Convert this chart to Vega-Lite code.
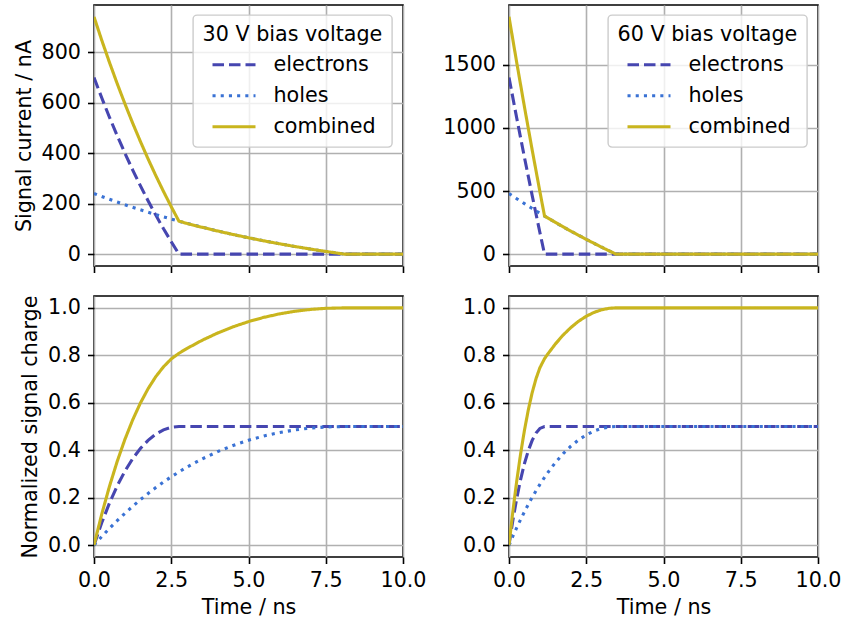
{
  "$schema": "https://vega.github.io/schema/vega-lite/v6.json",
  "padding": {"left": 12, "top": 4, "right": 5, "bottom": 5},
  "background": "white",
  "data": {"values": [
    {"b":"30","q":"I","c":"electrons","t":0,"v":700},
    {"b":"30","q":"I","c":"electrons","t":0.25,"v":619.3},
    {"b":"30","q":"I","c":"electrons","t":0.5,"v":542.5},
    {"b":"30","q":"I","c":"electrons","t":0.75,"v":469.5},
    {"b":"30","q":"I","c":"electrons","t":1,"v":400.1},
    {"b":"30","q":"I","c":"electrons","t":1.25,"v":334.0},
    {"b":"30","q":"I","c":"electrons","t":1.5,"v":271.2},
    {"b":"30","q":"I","c":"electrons","t":1.75,"v":211.4},
    {"b":"30","q":"I","c":"electrons","t":2,"v":154.5},
    {"b":"30","q":"I","c":"electrons","t":2.25,"v":100.4},
    {"b":"30","q":"I","c":"electrons","t":2.5,"v":49.0},
    {"b":"30","q":"I","c":"electrons","t":2.75,"v":0},
    {"b":"30","q":"I","c":"electrons","t":10,"v":0},
    {"b":"30","q":"I","c":"holes","t":0,"v":240},
    {"b":"30","q":"I","c":"holes","t":0.25,"v":228.4},
    {"b":"30","q":"I","c":"holes","t":0.5,"v":217.2},
    {"b":"30","q":"I","c":"holes","t":0.75,"v":206.3},
    {"b":"30","q":"I","c":"holes","t":1,"v":195.7},
    {"b":"30","q":"I","c":"holes","t":1.25,"v":185.5},
    {"b":"30","q":"I","c":"holes","t":1.5,"v":175.6},
    {"b":"30","q":"I","c":"holes","t":1.75,"v":165.9},
    {"b":"30","q":"I","c":"holes","t":2,"v":156.6},
    {"b":"30","q":"I","c":"holes","t":2.25,"v":147.6},
    {"b":"30","q":"I","c":"holes","t":2.5,"v":138.8},
    {"b":"30","q":"I","c":"holes","t":2.75,"v":130.3},
    {"b":"30","q":"I","c":"holes","t":3,"v":122.1},
    {"b":"30","q":"I","c":"holes","t":3.5,"v":106.4},
    {"b":"30","q":"I","c":"holes","t":4,"v":91.7},
    {"b":"30","q":"I","c":"holes","t":4.5,"v":77.8},
    {"b":"30","q":"I","c":"holes","t":5,"v":64.8},
    {"b":"30","q":"I","c":"holes","t":5.5,"v":52.6},
    {"b":"30","q":"I","c":"holes","t":6,"v":41.1},
    {"b":"30","q":"I","c":"holes","t":6.5,"v":30.3},
    {"b":"30","q":"I","c":"holes","t":7,"v":20.2},
    {"b":"30","q":"I","c":"holes","t":7.5,"v":10.7},
    {"b":"30","q":"I","c":"holes","t":8.1,"v":0},
    {"b":"30","q":"I","c":"holes","t":10,"v":0},
    {"b":"30","q":"I","c":"combined","t":0,"v":940},
    {"b":"30","q":"I","c":"combined","t":0.25,"v":847.7},
    {"b":"30","q":"I","c":"combined","t":0.5,"v":759.7},
    {"b":"30","q":"I","c":"combined","t":0.75,"v":675.8},
    {"b":"30","q":"I","c":"combined","t":1,"v":595.8},
    {"b":"30","q":"I","c":"combined","t":1.25,"v":519.5},
    {"b":"30","q":"I","c":"combined","t":1.5,"v":446.8},
    {"b":"30","q":"I","c":"combined","t":1.75,"v":377.3},
    {"b":"30","q":"I","c":"combined","t":2,"v":311.1},
    {"b":"30","q":"I","c":"combined","t":2.25,"v":248.0},
    {"b":"30","q":"I","c":"combined","t":2.5,"v":187.8},
    {"b":"30","q":"I","c":"combined","t":2.75,"v":130.3},
    {"b":"30","q":"I","c":"combined","t":3,"v":122.1},
    {"b":"30","q":"I","c":"combined","t":3.5,"v":106.4},
    {"b":"30","q":"I","c":"combined","t":4,"v":91.7},
    {"b":"30","q":"I","c":"combined","t":4.5,"v":77.8},
    {"b":"30","q":"I","c":"combined","t":5,"v":64.8},
    {"b":"30","q":"I","c":"combined","t":5.5,"v":52.6},
    {"b":"30","q":"I","c":"combined","t":6,"v":41.1},
    {"b":"30","q":"I","c":"combined","t":6.5,"v":30.3},
    {"b":"30","q":"I","c":"combined","t":7,"v":20.2},
    {"b":"30","q":"I","c":"combined","t":7.5,"v":10.7},
    {"b":"30","q":"I","c":"combined","t":8.1,"v":0},
    {"b":"30","q":"I","c":"combined","t":10,"v":0},

    {"b":"30","q":"Q","c":"electrons","t":0,"v":0},
    {"b":"30","q":"Q","c":"electrons","t":0.25,"v":0.0942},
    {"b":"30","q":"Q","c":"electrons","t":0.5,"v":0.1772},
    {"b":"30","q":"Q","c":"electrons","t":0.75,"v":0.2495},
    {"b":"30","q":"Q","c":"electrons","t":1,"v":0.3115},
    {"b":"30","q":"Q","c":"electrons","t":1.25,"v":0.3640},
    {"b":"30","q":"Q","c":"electrons","t":1.5,"v":0.4072},
    {"b":"30","q":"Q","c":"electrons","t":1.75,"v":0.4416},
    {"b":"30","q":"Q","c":"electrons","t":2,"v":0.4677},
    {"b":"30","q":"Q","c":"electrons","t":2.25,"v":0.4859},
    {"b":"30","q":"Q","c":"electrons","t":2.5,"v":0.4967},
    {"b":"30","q":"Q","c":"electrons","t":2.75,"v":0.5},
    {"b":"30","q":"Q","c":"electrons","t":10,"v":0.5},
    {"b":"30","q":"Q","c":"holes","t":0,"v":0},
    {"b":"30","q":"Q","c":"holes","t":0.25,"v":0.0361},
    {"b":"30","q":"Q","c":"holes","t":0.5,"v":0.0704},
    {"b":"30","q":"Q","c":"holes","t":0.75,"v":0.1031},
    {"b":"30","q":"Q","c":"holes","t":1,"v":0.1341},
    {"b":"30","q":"Q","c":"holes","t":1.25,"v":0.1634},
    {"b":"30","q":"Q","c":"holes","t":1.5,"v":0.1913},
    {"b":"30","q":"Q","c":"holes","t":1.75,"v":0.2176},
    {"b":"30","q":"Q","c":"holes","t":2,"v":0.2425},
    {"b":"30","q":"Q","c":"holes","t":2.25,"v":0.2659},
    {"b":"30","q":"Q","c":"holes","t":2.5,"v":0.2880},
    {"b":"30","q":"Q","c":"holes","t":2.75,"v":0.3087},
    {"b":"30","q":"Q","c":"holes","t":3,"v":0.3282},
    {"b":"30","q":"Q","c":"holes","t":3.5,"v":0.3634},
    {"b":"30","q":"Q","c":"holes","t":4,"v":0.3939},
    {"b":"30","q":"Q","c":"holes","t":4.5,"v":0.4201},
    {"b":"30","q":"Q","c":"holes","t":5,"v":0.4420},
    {"b":"30","q":"Q","c":"holes","t":5.5,"v":0.4602},
    {"b":"30","q":"Q","c":"holes","t":6,"v":0.4745},
    {"b":"30","q":"Q","c":"holes","t":6.5,"v":0.4855},
    {"b":"30","q":"Q","c":"holes","t":7,"v":0.4933},
    {"b":"30","q":"Q","c":"holes","t":7.5,"v":0.4981},
    {"b":"30","q":"Q","c":"holes","t":8.1,"v":0.5},
    {"b":"30","q":"Q","c":"holes","t":10,"v":0.5},
    {"b":"30","q":"Q","c":"combined","t":0,"v":0},
    {"b":"30","q":"Q","c":"combined","t":0.25,"v":0.1303},
    {"b":"30","q":"Q","c":"combined","t":0.5,"v":0.2476},
    {"b":"30","q":"Q","c":"combined","t":0.75,"v":0.3526},
    {"b":"30","q":"Q","c":"combined","t":1,"v":0.4456},
    {"b":"30","q":"Q","c":"combined","t":1.25,"v":0.5274},
    {"b":"30","q":"Q","c":"combined","t":1.5,"v":0.5985},
    {"b":"30","q":"Q","c":"combined","t":1.75,"v":0.6592},
    {"b":"30","q":"Q","c":"combined","t":2,"v":0.7102},
    {"b":"30","q":"Q","c":"combined","t":2.25,"v":0.7518},
    {"b":"30","q":"Q","c":"combined","t":2.5,"v":0.7847},
    {"b":"30","q":"Q","c":"combined","t":2.75,"v":0.8087},
    {"b":"30","q":"Q","c":"combined","t":3,"v":0.8282},
    {"b":"30","q":"Q","c":"combined","t":3.5,"v":0.8634},
    {"b":"30","q":"Q","c":"combined","t":4,"v":0.8939},
    {"b":"30","q":"Q","c":"combined","t":4.5,"v":0.9201},
    {"b":"30","q":"Q","c":"combined","t":5,"v":0.9420},
    {"b":"30","q":"Q","c":"combined","t":5.5,"v":0.9602},
    {"b":"30","q":"Q","c":"combined","t":6,"v":0.9745},
    {"b":"30","q":"Q","c":"combined","t":6.5,"v":0.9855},
    {"b":"30","q":"Q","c":"combined","t":7,"v":0.9933},
    {"b":"30","q":"Q","c":"combined","t":7.5,"v":0.9981},
    {"b":"30","q":"Q","c":"combined","t":8.1,"v":1},
    {"b":"30","q":"Q","c":"combined","t":10,"v":1},

    {"b":"60","q":"I","c":"electrons","t":0,"v":1400},
    {"b":"60","q":"I","c":"electrons","t":0.25,"v":1078.3},
    {"b":"60","q":"I","c":"electrons","t":0.5,"v":766.5},
    {"b":"60","q":"I","c":"electrons","t":0.75,"v":464.3},
    {"b":"60","q":"I","c":"electrons","t":1,"v":171.4},
    {"b":"60","q":"I","c":"electrons","t":1.15,"v":0},
    {"b":"60","q":"I","c":"electrons","t":10,"v":0},
    {"b":"60","q":"I","c":"holes","t":0,"v":480},
    {"b":"60","q":"I","c":"holes","t":0.25,"v":439.5},
    {"b":"60","q":"I","c":"holes","t":0.5,"v":400.0},
    {"b":"60","q":"I","c":"holes","t":0.75,"v":361.4},
    {"b":"60","q":"I","c":"holes","t":1,"v":323.8},
    {"b":"60","q":"I","c":"holes","t":1.15,"v":301.7},
    {"b":"60","q":"I","c":"holes","t":1.5,"v":251.4},
    {"b":"60","q":"I","c":"holes","t":2,"v":182.5},
    {"b":"60","q":"I","c":"holes","t":2.5,"v":117.0},
    {"b":"60","q":"I","c":"holes","t":3,"v":54.7},
    {"b":"60","q":"I","c":"holes","t":3.46,"v":0},
    {"b":"60","q":"I","c":"holes","t":10,"v":0},
    {"b":"60","q":"I","c":"combined","t":0,"v":1880},
    {"b":"60","q":"I","c":"combined","t":0.25,"v":1517.8},
    {"b":"60","q":"I","c":"combined","t":0.5,"v":1166.5},
    {"b":"60","q":"I","c":"combined","t":0.75,"v":825.7},
    {"b":"60","q":"I","c":"combined","t":1,"v":495.2},
    {"b":"60","q":"I","c":"combined","t":1.15,"v":301.7},
    {"b":"60","q":"I","c":"combined","t":1.5,"v":251.4},
    {"b":"60","q":"I","c":"combined","t":2,"v":182.5},
    {"b":"60","q":"I","c":"combined","t":2.5,"v":117.0},
    {"b":"60","q":"I","c":"combined","t":3,"v":54.7},
    {"b":"60","q":"I","c":"combined","t":3.46,"v":0},
    {"b":"60","q":"I","c":"combined","t":10,"v":0},

    {"b":"60","q":"Q","c":"electrons","t":0,"v":0},
    {"b":"60","q":"Q","c":"electrons","t":0.125,"v":0.1049},
    {"b":"60","q":"Q","c":"electrons","t":0.25,"v":0.1970},
    {"b":"60","q":"Q","c":"electrons","t":0.375,"v":0.2765},
    {"b":"60","q":"Q","c":"electrons","t":0.5,"v":0.3437},
    {"b":"60","q":"Q","c":"electrons","t":0.625,"v":0.3986},
    {"b":"60","q":"Q","c":"electrons","t":0.75,"v":0.4415},
    {"b":"60","q":"Q","c":"electrons","t":0.875,"v":0.4725},
    {"b":"60","q":"Q","c":"electrons","t":1,"v":0.4919},
    {"b":"60","q":"Q","c":"electrons","t":1.15,"v":0.5},
    {"b":"60","q":"Q","c":"electrons","t":10,"v":0.5},
    {"b":"60","q":"Q","c":"holes","t":0,"v":0},
    {"b":"60","q":"Q","c":"holes","t":0.125,"v":0.0375},
    {"b":"60","q":"Q","c":"holes","t":0.25,"v":0.0734},
    {"b":"60","q":"Q","c":"holes","t":0.375,"v":0.1077},
    {"b":"60","q":"Q","c":"holes","t":0.5,"v":0.1404},
    {"b":"60","q":"Q","c":"holes","t":0.625,"v":0.1716},
    {"b":"60","q":"Q","c":"holes","t":0.75,"v":0.2012},
    {"b":"60","q":"Q","c":"holes","t":0.875,"v":0.2293},
    {"b":"60","q":"Q","c":"holes","t":1,"v":0.2559},
    {"b":"60","q":"Q","c":"holes","t":1.15,"v":0.2859},
    {"b":"60","q":"Q","c":"holes","t":1.25,"v":0.3047},
    {"b":"60","q":"Q","c":"holes","t":1.5,"v":0.3477},
    {"b":"60","q":"Q","c":"holes","t":1.75,"v":0.3851},
    {"b":"60","q":"Q","c":"holes","t":2,"v":0.4169},
    {"b":"60","q":"Q","c":"holes","t":2.25,"v":0.4434},
    {"b":"60","q":"Q","c":"holes","t":2.5,"v":0.4646},
    {"b":"60","q":"Q","c":"holes","t":2.75,"v":0.4808},
    {"b":"60","q":"Q","c":"holes","t":3,"v":0.4920},
    {"b":"60","q":"Q","c":"holes","t":3.25,"v":0.4983},
    {"b":"60","q":"Q","c":"holes","t":3.46,"v":0.5},
    {"b":"60","q":"Q","c":"holes","t":10,"v":0.5},
    {"b":"60","q":"Q","c":"combined","t":0,"v":0},
    {"b":"60","q":"Q","c":"combined","t":0.125,"v":0.1424},
    {"b":"60","q":"Q","c":"combined","t":0.25,"v":0.2704},
    {"b":"60","q":"Q","c":"combined","t":0.375,"v":0.3842},
    {"b":"60","q":"Q","c":"combined","t":0.5,"v":0.4841},
    {"b":"60","q":"Q","c":"combined","t":0.625,"v":0.5702},
    {"b":"60","q":"Q","c":"combined","t":0.75,"v":0.6427},
    {"b":"60","q":"Q","c":"combined","t":0.875,"v":0.7018},
    {"b":"60","q":"Q","c":"combined","t":1,"v":0.7478},
    {"b":"60","q":"Q","c":"combined","t":1.15,"v":0.7859},
    {"b":"60","q":"Q","c":"combined","t":1.25,"v":0.8047},
    {"b":"60","q":"Q","c":"combined","t":1.5,"v":0.8477},
    {"b":"60","q":"Q","c":"combined","t":1.75,"v":0.8851},
    {"b":"60","q":"Q","c":"combined","t":2,"v":0.9169},
    {"b":"60","q":"Q","c":"combined","t":2.25,"v":0.9434},
    {"b":"60","q":"Q","c":"combined","t":2.5,"v":0.9646},
    {"b":"60","q":"Q","c":"combined","t":2.75,"v":0.9808},
    {"b":"60","q":"Q","c":"combined","t":3,"v":0.9920},
    {"b":"60","q":"Q","c":"combined","t":3.25,"v":0.9983},
    {"b":"60","q":"Q","c":"combined","t":3.46,"v":1},
    {"b":"60","q":"Q","c":"combined","t":10,"v":1}
  ]},
  "columns": 2,
  "bounds": "flush",
  "spacing": {"row": 30, "column": 106},
  "concat": [
    {
      "width": 309, "height": 261,
      "transform": [{"filter": "datum.b === '30' && datum.q === 'I'"}],
      "mark": {"type": "line", "strokeWidth": 3.1, "clip": true},
      "encoding": {
        "x": {"field": "t", "type": "quantitative", "scale": {"domain": [0, 10], "nice": false, "zero": false}, "axis": {"values": [0, 2.5, 5, 7.5, 10], "labels": false, "title": null}},
        "y": {"field": "v", "type": "quantitative", "scale": {"domain": [-47, 987], "nice": false, "zero": false}, "axis": {"values": [0, 200, 400, 600, 800], "format": "d", "title": "Signal current / nA"}},
        "color": {"field": "c", "type": "nominal", "scale": {"domain": ["electrons", "holes", "combined"], "range": ["#4646b0", "#3a72d4", "#c9b51e"]}, "legend": {"title": "30 V bias voltage", "orient": "none", "legendX": 99, "legendY": 10}},
        "strokeDash": {"field": "c", "type": "nominal", "scale": {"domain": ["electrons", "holes", "combined"], "range": [[11.5, 5], [3.1, 5.1], [1, 0]]}, "legend": {"title": "30 V bias voltage", "orient": "none", "legendX": 99, "legendY": 10}}
      }
    },
    {
      "width": 309, "height": 261,
      "transform": [{"filter": "datum.b === '60' && datum.q === 'I'"}],
      "mark": {"type": "line", "strokeWidth": 3.1, "clip": true},
      "encoding": {
        "x": {"field": "t", "type": "quantitative", "scale": {"domain": [0, 10], "nice": false, "zero": false}, "axis": {"values": [0, 2.5, 5, 7.5, 10], "labels": false, "title": null}},
        "y": {"field": "v", "type": "quantitative", "scale": {"domain": [-94, 1974], "nice": false, "zero": false}, "axis": {"values": [0, 500, 1000, 1500], "format": "d", "title": null}},
        "color": {"field": "c", "type": "nominal", "scale": {"domain": ["electrons", "holes", "combined"], "range": ["#4646b0", "#3a72d4", "#c9b51e"]}, "legend": {"title": "60 V bias voltage", "orient": "none", "legendX": 99, "legendY": 10}},
        "strokeDash": {"field": "c", "type": "nominal", "scale": {"domain": ["electrons", "holes", "combined"], "range": [[11.5, 5], [3.1, 5.1], [1, 0]]}, "legend": {"title": "60 V bias voltage", "orient": "none", "legendX": 99, "legendY": 10}}
      }
    },
    {
      "width": 309, "height": 261,
      "transform": [{"filter": "datum.b === '30' && datum.q === 'Q'"}],
      "mark": {"type": "line", "strokeWidth": 3.1, "clip": true},
      "encoding": {
        "x": {"field": "t", "type": "quantitative", "scale": {"domain": [0, 10], "nice": false, "zero": false}, "axis": {"values": [0, 2.5, 5, 7.5, 10], "format": ".1f", "title": "Time / ns"}},
        "y": {"field": "v", "type": "quantitative", "scale": {"domain": [-0.05, 1.05], "nice": false, "zero": false}, "axis": {"values": [0, 0.2, 0.4, 0.6, 0.8, 1.0], "format": ".1f", "title": "Normalized signal charge"}},
        "color": {"field": "c", "type": "nominal", "scale": {"domain": ["electrons", "holes", "combined"], "range": ["#4646b0", "#3a72d4", "#c9b51e"]}, "legend": null},
        "strokeDash": {"field": "c", "type": "nominal", "scale": {"domain": ["electrons", "holes", "combined"], "range": [[11.5, 5], [3.1, 5.1], [1, 0]]}, "legend": null}
      }
    },
    {
      "width": 309, "height": 261,
      "transform": [{"filter": "datum.b === '60' && datum.q === 'Q'"}],
      "mark": {"type": "line", "strokeWidth": 3.1, "clip": true},
      "encoding": {
        "x": {"field": "t", "type": "quantitative", "scale": {"domain": [0, 10], "nice": false, "zero": false}, "axis": {"values": [0, 2.5, 5, 7.5, 10], "format": ".1f", "title": "Time / ns"}},
        "y": {"field": "v", "type": "quantitative", "scale": {"domain": [-0.05, 1.05], "nice": false, "zero": false}, "axis": {"values": [0, 0.2, 0.4, 0.6, 0.8, 1.0], "format": ".1f", "title": null}},
        "color": {"field": "c", "type": "nominal", "scale": {"domain": ["electrons", "holes", "combined"], "range": ["#4646b0", "#3a72d4", "#c9b51e"]}, "legend": null},
        "strokeDash": {"field": "c", "type": "nominal", "scale": {"domain": ["electrons", "holes", "combined"], "range": [[11.5, 5], [3.1, 5.1], [1, 0]]}, "legend": null}
      }
    }
  ],
  "resolve": {
    "scale": {"color": "independent", "strokeDash": "independent"},
    "legend": {"color": "independent", "strokeDash": "independent"}
  },
  "config": {
    "font": "DejaVu Sans",
    "view": {"stroke": "black", "strokeWidth": 1.6},
    "axis": {
      "labelFont": "DejaVu Sans", "labelFontSize": 20.7, "labelColor": "black", "labelFlush": false, "labelOverlap": false,
      "titleFont": "DejaVu Sans", "titleFontSize": 20.7, "titleFontWeight": "normal", "titleColor": "black",
      "tickColor": "black", "tickWidth": 1.6, "tickSize": 6.5, "domain": false,
      "gridColor": "#b0b0b0", "gridWidth": 1.6, "gridOpacity": 1,
      "labelPadding": 7, "titlePadding": 7
    },
    "legend": {
      "fillColor": "rgba(255,255,255,0.8)", "strokeColor": "#cccccc", "strokeWidth": 1.4, "cornerRadius": 4,
      "padding": 9.5,
      "titleFont": "DejaVu Sans", "titleFontSize": 20.7, "titleFontWeight": "normal", "titleColor": "black", "titlePadding": 9.5, "titleLimit": 400,
      "labelFont": "DejaVu Sans", "labelFontSize": 20.7, "labelColor": "black", "labelLimit": 300, "labelOffset": 16,
      "symbolType": "stroke", "symbolSize": 1849, "symbolStrokeWidth": 3.1, "symbolOffset": 8,
      "clipHeight": 20, "rowPadding": 10
    }
  }
}
